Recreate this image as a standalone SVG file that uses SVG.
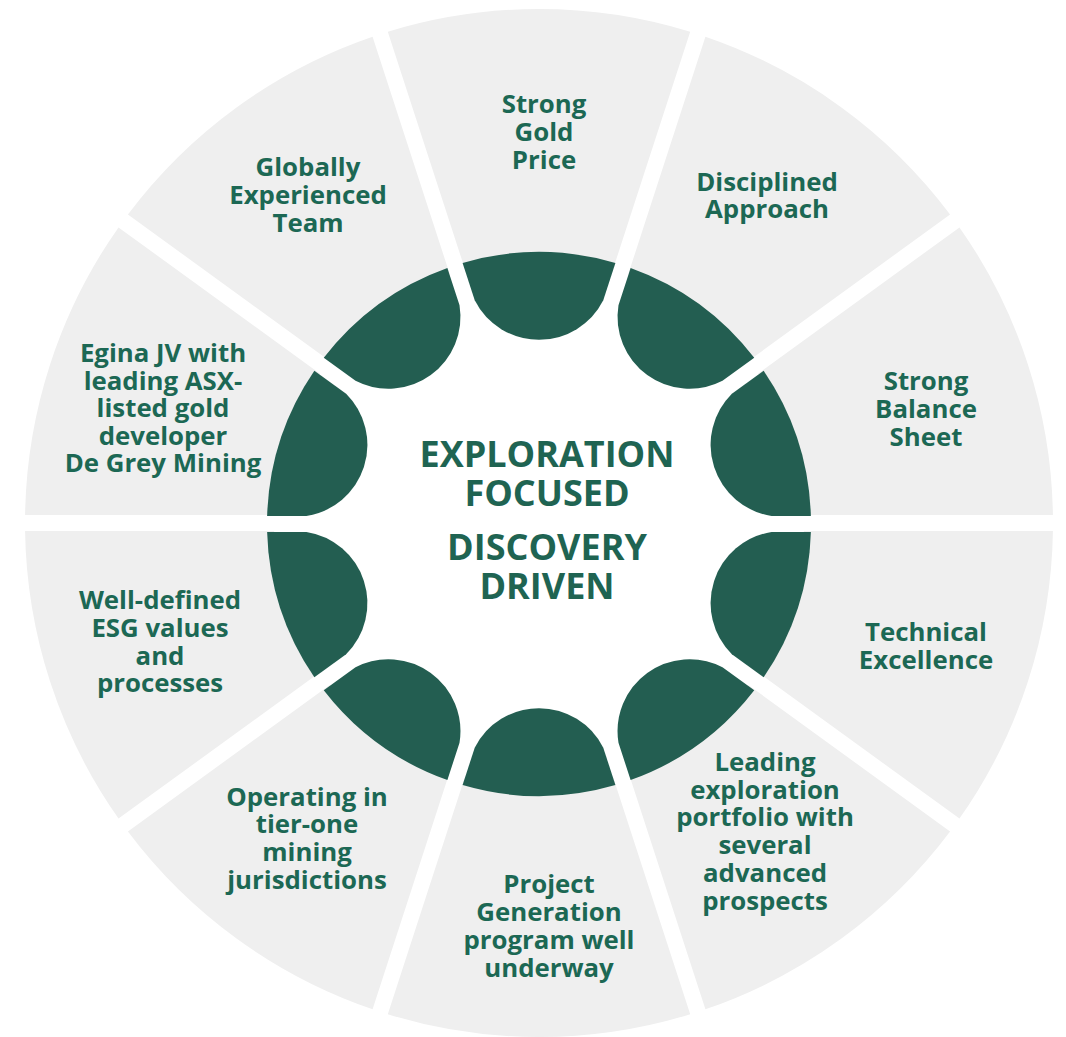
<svg xmlns="http://www.w3.org/2000/svg" width="1066" height="1037" viewBox="0 0 1066 1037">
<defs>
<style>
.seg{fill:#efefef}
.petal{fill:#235e51}
.lbl{font-family:"Open Sans","Liberation Sans",sans-serif;font-weight:700;font-size:25.8px;fill:#1c6854;text-anchor:middle}
.ctr{font-family:"Open Sans","Liberation Sans",sans-serif;font-weight:700;font-size:36px;fill:#1f6452;text-anchor:middle}
</style>
<path id="wedge" d="M -151.21,-491.25 A 514 514 0 0 1 151.21,-491.25 L 74.24,-254.39 A 265 265 0 0 0 -74.24,-254.39 Z"/>
<path id="pet" d="M -76.41,-261.04 A 272 272 0 0 1 76.41,-261.04 L 64.27,-223.68 A 72 72 0 0 1 -64.27,-223.68 Z"/>
</defs>
<rect width="1066" height="1037" fill="#ffffff"/>
<g id="node-gold-price">
<use href="#wedge" class="seg" transform="translate(539 523) rotate(0)"/>
<use href="#pet" class="petal" transform="translate(539 524) rotate(0)"/>
<text class="lbl"><tspan x="544" y="113">Strong</tspan><tspan x="544" y="141">Gold</tspan><tspan x="544" y="169">Price</tspan></text>
</g>
<g id="node-disciplined">
<use href="#wedge" class="seg" transform="translate(539 523) rotate(36)"/>
<use href="#pet" class="petal" transform="translate(539 524) rotate(36)"/>
<text class="lbl"><tspan x="767" y="191">Disciplined</tspan><tspan x="767" y="218">Approach</tspan></text>
</g>
<g id="node-balance-sheet">
<use href="#wedge" class="seg" transform="translate(539 523) rotate(72)"/>
<use href="#pet" class="petal" transform="translate(539 524) rotate(72)"/>
<text class="lbl"><tspan x="926" y="390">Strong</tspan><tspan x="926" y="418">Balance</tspan><tspan x="926" y="446">Sheet</tspan></text>
</g>
<g id="node-technical">
<use href="#wedge" class="seg" transform="translate(539 523) rotate(108)"/>
<use href="#pet" class="petal" transform="translate(539 524) rotate(108)"/>
<text class="lbl"><tspan x="926" y="641">Technical</tspan><tspan x="926" y="669">Excellence</tspan></text>
</g>
<g id="node-portfolio">
<use href="#wedge" class="seg" transform="translate(539 523) rotate(144)"/>
<use href="#pet" class="petal" transform="translate(539 524) rotate(144)"/>
<text class="lbl"><tspan x="765" y="771">Leading</tspan><tspan x="765" y="799">exploration</tspan><tspan x="765" y="826">portfolio with</tspan><tspan x="765" y="854">several</tspan><tspan x="765" y="882">advanced</tspan><tspan x="765" y="910">prospects</tspan></text>
</g>
<g id="node-project-generation">
<use href="#wedge" class="seg" transform="translate(539 523) rotate(180)"/>
<use href="#pet" class="petal" transform="translate(539 524) rotate(180)"/>
<text class="lbl"><tspan x="549" y="893">Project</tspan><tspan x="549" y="921">Generation</tspan><tspan x="549" y="949">program well</tspan><tspan x="549" y="977">underway</tspan></text>
</g>
<g id="node-jurisdictions">
<use href="#wedge" class="seg" transform="translate(539 523) rotate(216)"/>
<use href="#pet" class="petal" transform="translate(539 524) rotate(216)"/>
<text class="lbl"><tspan x="307" y="806">Operating in</tspan><tspan x="307" y="833">tier-one</tspan><tspan x="307" y="861">mining</tspan><tspan x="307" y="889">jurisdictions</tspan></text>
</g>
<g id="node-esg">
<use href="#wedge" class="seg" transform="translate(539 523) rotate(252)"/>
<use href="#pet" class="petal" transform="translate(539 524) rotate(252)"/>
<text class="lbl"><tspan x="160" y="609">Well-defined</tspan><tspan x="160" y="637">ESG values</tspan><tspan x="160" y="665">and</tspan><tspan x="160" y="692">processes</tspan></text>
</g>
<g id="node-egina">
<use href="#wedge" class="seg" transform="translate(539 523) rotate(288)"/>
<use href="#pet" class="petal" transform="translate(539 524) rotate(288)"/>
<text class="lbl"><tspan x="163" y="362">Egina JV with</tspan><tspan x="163" y="390">leading ASX-</tspan><tspan x="163" y="417">listed gold</tspan><tspan x="163" y="445">developer</tspan><tspan x="163" y="472">De Grey Mining</tspan></text>
</g>
<g id="node-team">
<use href="#wedge" class="seg" transform="translate(539 523) rotate(324)"/>
<use href="#pet" class="petal" transform="translate(539 524) rotate(324)"/>
<text class="lbl"><tspan x="308" y="176">Globally</tspan><tspan x="308" y="204">Experienced</tspan><tspan x="308" y="232">Team</tspan></text>
</g>
<g id="node-center">
<text class="ctr"><tspan x="547" y="467">EXPLORATION</tspan><tspan x="547" y="506">FOCUSED</tspan><tspan x="547" y="560">DISCOVERY</tspan><tspan x="547" y="599">DRIVEN</tspan></text>
</g>
<g id="connectors"></g>
</svg>
